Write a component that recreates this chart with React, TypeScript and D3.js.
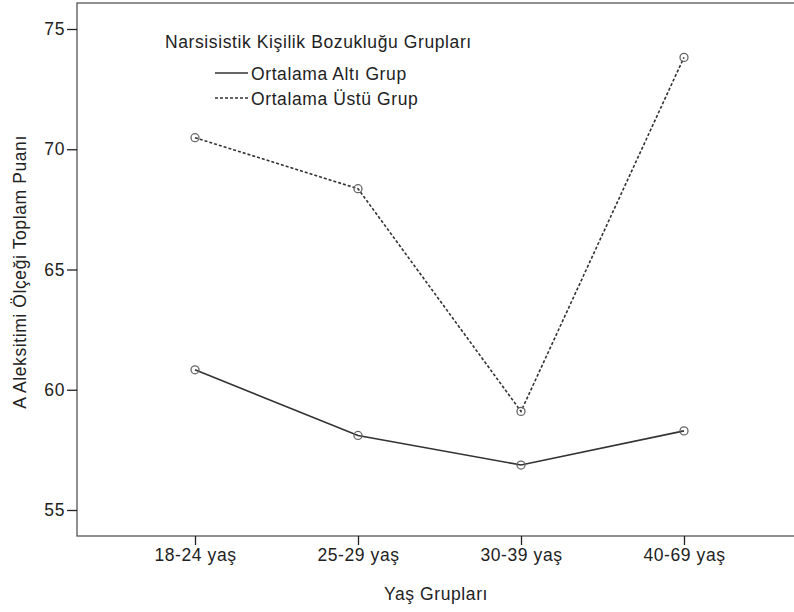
import { useEffect, useRef } from 'react';
import * as d3 from 'd3';

const ageGroups = ['18-24 yaş', '25-29 yaş', '30-39 yaş', '40-69 yaş'];
const belowAverage = [60.83, 58.1, 56.87, 58.29];
const aboveAverage = [70.48, 68.36, 59.1, 73.82];
const yTicks = [55, 60, 65, 70, 75];

const legendTitle = 'Narsisistik Kişilik Bozukluğu Grupları';
const seriesNames = ['Ortalama Altı Grup', 'Ortalama Üstü Grup'];

export default function App() {
  const svgRef = useRef<SVGSVGElement>(null);

  useEffect(() => {
    if (!svgRef.current) return;
    const svg = d3.select(svgRef.current);
    svg.selectAll('*').remove();

    const W = 794;
    const H = 612;
    const left = 77;
    const top = 3;
    const right = 796;
    const bottom = 536;
    const font = '"Liberation Sans", Arial, sans-serif';
    const fs = 17.5;
    const ls = 0.6;

    const x = d3
      .scalePoint<string>()
      .domain(ageGroups)
      .range([195, 684]);

    const y = d3.scaleLinear().domain([55, 75]).range([510, 29]);

    svg.attr('width', W).attr('height', H);

    // plot frame
    svg
      .append('rect')
      .attr('x', left)
      .attr('y', top)
      .attr('width', right - left)
      .attr('height', bottom - top)
      .attr('fill', 'none')
      .attr('stroke', '#555')
      .attr('stroke-width', 1.3);

    // y axis
    const yAxis = svg
      .append('g')
      .attr('transform', `translate(${left},0)`)
      .call(d3.axisLeft(y).tickValues(yTicks).tickSize(10).tickPadding(2).tickFormat(d3.format('d')));
    yAxis.select('.domain').remove();
    yAxis.selectAll('line').attr('stroke', '#222').attr('stroke-width', 1.3);
    yAxis
      .selectAll('text')
      .attr('font-family', font)
      .attr('font-size', fs)
      .attr('letter-spacing', ls)
      .attr('fill', '#222');

    // x axis
    const xAxis = svg
      .append('g')
      .attr('transform', `translate(0,${bottom})`)
      .call(d3.axisBottom(x).tickSize(9).tickPadding(4));
    xAxis.select('.domain').remove();
    xAxis.selectAll('line').attr('stroke', '#222').attr('stroke-width', 1.3);
    xAxis
      .selectAll('text')
      .attr('font-family', font)
      .attr('font-size', fs)
      .attr('letter-spacing', ls)
      .attr('fill', '#222');

    // axis titles
    svg
      .append('text')
      .attr('x', 436)
      .attr('y', 600)
      .attr('text-anchor', 'middle')
      .attr('font-family', font)
      .attr('font-size', fs)
      .attr('letter-spacing', ls)
      .attr('fill', '#222')
      .text('Yaş Grupları');

    svg
      .append('text')
      .attr('transform', `translate(26,272) rotate(-90)`)
      .attr('text-anchor', 'middle')
      .attr('font-family', font)
      .attr('font-size', fs)
      .attr('letter-spacing', ls)
      .attr('fill', '#222')
      .text('A Aleksitimi Ölçeği Toplam Puanı');

    const line = d3
      .line<number>()
      .x((_, i) => x(ageGroups[i]) as number)
      .y((d) => y(d));

    const series = [
      { values: belowAverage, dash: null },
      { values: aboveAverage, dash: '3,2' },
    ];

    series.forEach((s) => {
      svg
        .append('path')
        .datum(s.values)
        .attr('d', line)
        .attr('fill', 'none')
        .attr('stroke', '#333')
        .attr('stroke-width', 1.6)
        .attr('stroke-dasharray', s.dash);

      svg
        .append('g')
        .selectAll('circle')
        .data(s.values)
        .enter()
        .append('circle')
        .attr('cx', (_, i) => x(ageGroups[i]) as number)
        .attr('cy', (d) => y(d))
        .attr('r', 4)
        .attr('fill', 'none')
        .attr('stroke', '#666')
        .attr('stroke-width', 1.3);
    });

    // legend
    const legend = svg.append('g');
    legend
      .append('text')
      .attr('x', 165)
      .attr('y', 48)
      .attr('font-family', font)
      .attr('font-size', fs)
      .attr('letter-spacing', ls)
      .attr('fill', '#222')
      .text(legendTitle);

    seriesNames.forEach((name, i) => {
      const ly = 73 + i * 25;
      legend
        .append('line')
        .attr('x1', 215)
        .attr('x2', 248)
        .attr('y1', ly)
        .attr('y2', ly)
        .attr('stroke', '#333')
        .attr('stroke-width', 1.6)
        .attr('stroke-dasharray', series[i].dash);
      legend
        .append('text')
        .attr('x', 251)
        .attr('y', ly + 7)
        .attr('font-family', font)
        .attr('font-size', fs)
        .attr('letter-spacing', ls)
        .attr('fill', '#222')
        .text(name);
    });
  }, []);

  return (
    <svg
      ref={svgRef}
      style={{ position: 'absolute', left: 0, top: 0, display: 'block', background: '#fff' }}
    />
  );
}
